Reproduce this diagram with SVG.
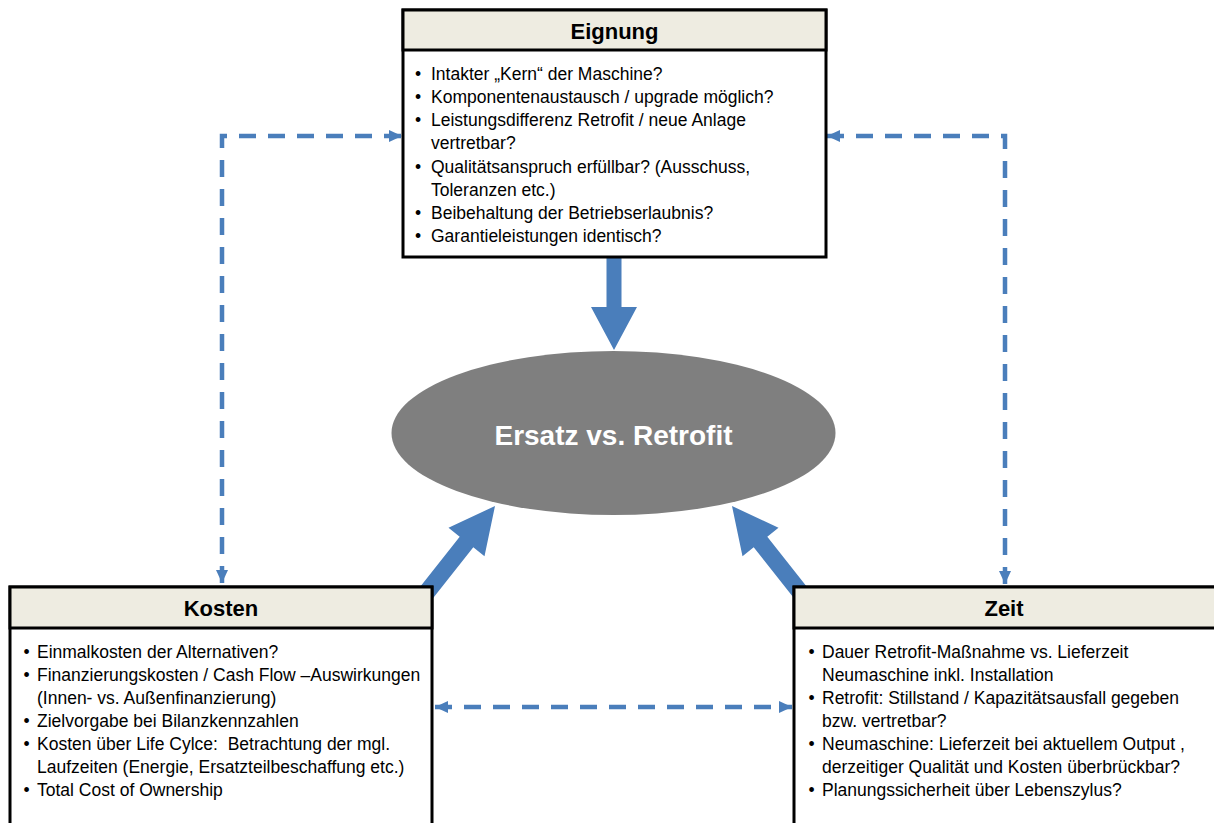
<svg xmlns="http://www.w3.org/2000/svg" width="1214" height="823" viewBox="0 0 1214 823">
<style>
.box{fill:#ffffff;stroke:#000000;stroke-width:3}
.hdr{fill:#eeece1;stroke:#000000;stroke-width:3}
.ttl{font-family:"Liberation Sans",Arial,sans-serif;font-weight:bold;font-size:22px;fill:#000;text-anchor:middle}
.txt{font-family:"Liberation Sans",Arial,sans-serif;font-size:17.5px;fill:#000}
.dash{fill:none;stroke:#4a7ebb;stroke-width:4.5;stroke-dasharray:17 12}
.blk{fill:#4a7ebb}
</style>
<defs>
<marker id="ah" markerUnits="userSpaceOnUse" markerWidth="14" markerHeight="14" viewBox="0 0 14 14" refX="13" refY="7" orient="auto-start-reverse">
<path d="M0,1 L13,7 L0,13 Z" fill="#4a7ebb"/>
</marker>
</defs>
<rect width="1214" height="823" fill="#ffffff"/>
<g id="connectors">
<path class="dash" d="M222,583 V136 H402" marker-start="url(#ah)" marker-end="url(#ah)"/>
<path class="dash" d="M827,136 H1005 V584" marker-start="url(#ah)" marker-end="url(#ah)"/>
<path class="dash" d="M435,707 H792" marker-start="url(#ah)" marker-end="url(#ah)"/>
<polygon class="blk" points="614,350 591,307 606.5,307 606.5,258 621.5,258 621.5,307 637,307"/>
<polygon class="blk" points="495,506 484.5,556.3 473.3,547.3 423.7,610.1 410.1,599.5 459.7,536.7 448.5,527.7"/>
<polygon class="blk" points="732,506 742.5,556.3 753.7,547.3 803.3,610.1 816.9,599.5 767.3,536.7 778.5,527.7"/>
</g>
<g id="center">
<ellipse cx="613.5" cy="433" rx="222" ry="82" fill="#7f7f7f"/>
<text x="613.5" y="445" font-family="Liberation Sans, Arial, sans-serif" font-weight="bold" font-size="28" fill="#ffffff" text-anchor="middle">Ersatz vs. Retrofit</text>
</g>
<g id="eignung">
<rect class="box" x="403" y="10" width="423" height="247"/>
<rect class="hdr" x="403" y="10" width="423" height="40"/>
<text class="ttl" x="614.5" y="39">Eignung</text>
<g class="txt">
<text x="415" y="80">•</text><text x="431" y="80">Intakter „Kern“ der Maschine?</text>
<text x="415" y="103">•</text><text x="431" y="103">Komponentenaustausch / upgrade möglich?</text>
<text x="415" y="126">•</text><text x="431" y="126">Leistungsdifferenz Retrofit / neue Anlage</text>
<text x="431" y="149">vertretbar?</text>
<text x="415" y="172.5">•</text><text x="431" y="172.5">Qualitätsanspruch erfüllbar? (Ausschuss,</text>
<text x="431" y="195.5">Toleranzen etc.)</text>
<text x="415" y="219">•</text><text x="431" y="219">Beibehaltung der Betriebserlaubnis?</text>
<text x="415" y="242">•</text><text x="431" y="242">Garantieleistungen identisch?</text>
</g>
</g>
<g id="kosten">
<rect class="box" x="10" y="587" width="422" height="250"/>
<rect class="hdr" x="10" y="587" width="422" height="41"/>
<text class="ttl" x="221" y="616">Kosten</text>
<g class="txt">
<text x="23.5" y="658">•</text><text x="37" y="658">Einmalkosten der Alternativen?</text>
<text x="23.5" y="681">•</text><text x="37" y="681">Finanzierungskosten / Cash Flow –Auswirkungen</text>
<text x="37" y="704">(Innen- vs. Außenfinanzierung)</text>
<text x="23.5" y="727">•</text><text x="37" y="727">Zielvorgabe bei Bilanzkennzahlen</text>
<text x="23.5" y="750">•</text><text x="37" y="750">Kosten über Life Cylce:&#160; Betrachtung der mgl.</text>
<text x="37" y="773">Laufzeiten (Energie, Ersatzteilbeschaffung etc.)</text>
<text x="23.5" y="796">•</text><text x="37" y="796">Total Cost of Ownership</text>
</g>
</g>
<g id="zeit">
<rect class="box" x="794" y="587" width="430" height="250"/>
<rect class="hdr" x="794" y="587" width="430" height="41"/>
<text class="ttl" x="1004" y="616">Zeit</text>
<g class="txt">
<text x="808.5" y="658">•</text><text x="822" y="658">Dauer Retrofit-Maßnahme vs. Lieferzeit</text>
<text x="822" y="681">Neumaschine inkl. Installation</text>
<text x="808.5" y="704">•</text><text x="822" y="704">Retrofit: Stillstand / Kapazitätsausfall gegeben</text>
<text x="822" y="727">bzw. vertretbar?</text>
<text x="808.5" y="750">•</text><text x="822" y="750">Neumaschine: Lieferzeit bei aktuellem Output ,</text>
<text x="822" y="773">derzeitiger Qualität und Kosten überbrückbar?</text>
<text x="808.5" y="796">•</text><text x="822" y="796">Planungssicherheit über Lebenszylus?</text>
</g>
</g>
</svg>
